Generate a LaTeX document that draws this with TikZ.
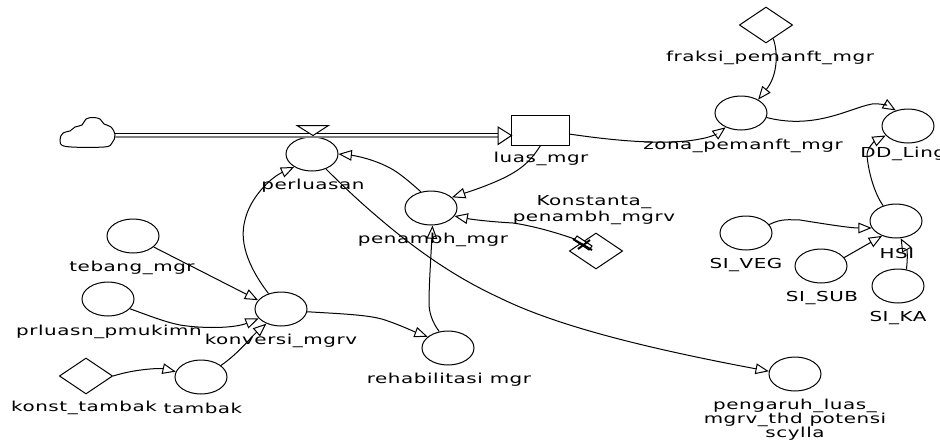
\documentclass[tikz,border=0pt]{standalone}
\usepackage{fontspec}
\setmainfont[FakeStretch=1.45,LetterSpace=4]{DejaVu Sans}
\usetikzlibrary{arrows.meta,shapes.geometric}
\tikzset{
  conv/.style={draw,ellipse,minimum width=39pt,minimum height=25.5pt,inner sep=0pt,line width=.75pt},
  cons/.style={draw,diamond,minimum width=40pt,minimum height=27pt,inner sep=0pt,line width=.75pt},
  stockbox/.style={draw,rectangle,minimum width=43pt,minimum height=22.5pt,inner sep=0pt,line width=.75pt},
  lab/.style={font=\fontsize{10.3pt}{11pt}\selectfont,inner sep=0pt,align=center},
  link/.style={line width=.75pt,-{Triangle[open,length=10pt,width=8pt,line width=.75pt]}},
  pipe/.style={line width=.75pt}
}
\begin{document}
\begin{tikzpicture}[x=.75pt,y=-.75pt]
\useasboundingbox (0,0) rectangle (940,443);
\clip (0,0) rectangle (940,443);
% stock and variables
\node[stockbox] (stock) at (540.5,130) {};
\node[conv] (perl) at (312,154) {};
\node[conv] (pen) at (431,208) {};
\node[conv] (konv) at (281,309) {};
\node[conv] (reh) at (448,348) {};
\node[conv] (peng) at (795,374) {};
\node[conv] (teb) at (133,236) {};
\node[conv] (prl) at (108,299) {};
\node[conv] (tam) at (201,377) {};
\node[conv] (zona) at (741,113) {};
\node[conv] (dd) at (908,126) {};
\node[conv] (hsi) at (896,221) {};
\node[conv] (veg) at (746,233) {};
\node[conv] (sub) at (821,266) {};
\node[conv] (ka) at (898,286) {};
\node[cons] (kons) at (596,251) {};
\node[cons] (fra) at (766,25) {};
\node[cons] (kta) at (86,376) {};
% cloud
\draw[line width=.75pt] plot[smooth cycle,tension=.6] coordinates {(66,146.5) (60,140) (63,133) (70,131) (75,127) (82,125) (86,119) (93,117.5) (100,119) (104,124) (111,127) (115,135) (112,143) (104,147)};
\coordinate (cloudE) at (115,133.5);
\coordinate (cloudF) at (115,137);
\coordinate (stockIn) at (498,133.5);
\coordinate (stockInF) at (498,137);
% flow pipe
\draw[pipe] (cloudE) -- (stockIn);
\draw[pipe,line width=1.1pt,gray] (cloudF) -- (stockInF);
\draw[line width=.75pt,fill=white] (498,127) -- (511.5,135.5) -- (498,144.5) -- cycle;
\draw[line width=.75pt,fill=white] (297,125.5) -- (328.5,125.5) -- (313,135.5) -- cycle;
% connectors
\draw[link] (konv.129) .. controls (252,272) and (238,245) .. (245,220) .. controls (250,198) and (270,178) .. (perl.216);
\draw[link] (pen.122) .. controls (410,182) and (398,172) .. (390,168) .. controls (375,160) and (358,156) .. (perl.0);
\draw[link] (perl.-47) .. controls (345,188) and (358,200) .. (373,213) .. controls (410,245) and (450,275) .. (500,298) .. controls (555,325) and (640,347) .. (peng.174);
\draw[link] (stock.south) .. controls (530,162) and (520,172) .. (490,184) .. controls (478,189) and (465,193) .. (pen.27);
\draw[link] (kons.146) .. controls (545,228) and (520,224) .. (513,223) .. controls (495,222) and (475,220) .. (pen.-19);
\draw[link] (reh.118) .. controls (432,322) and (429,312) .. (429,303) .. controls (429,285) and (431,255) .. (pen.-85);
\draw[link] (konv.-6) .. controls (345,314) and (370,315) .. (385,320) .. controls (400,325) and (415,332) .. (reh.151);
\draw[link] (teb.-28) -- (konv.159);
\draw[link] (prl.-24) .. controls (150,316) and (165,322) .. (180,325) .. controls (205,329) and (235,328) .. (konv.203);
\draw[link] (tam.30) .. controls (240,352) and (250,338) .. (konv.225);
\draw[link] (kta.east) .. controls (135,369) and (160,368) .. (tam.168);
\draw[link] (stock.-8) .. controls (610,140) and (665,146) .. (700,139) .. controls (712,137) and (718,133) .. (zona.223);
\draw[link] (fra.-62) .. controls (778,52) and (778,75) .. (zona.38);
\draw[link] (zona.-10) .. controls (815,130) and (850,108) .. (872,104) .. controls (882,103) and (890,107) .. (dd.128);
\draw[link] (hsi.130) .. controls (874,193) and (868,170) .. (867,155) .. controls (867,148) and (875,141) .. (dd.203);
\draw[link] (veg.20) .. controls (782,218) and (790,220) .. (800,220) .. controls (825,224) and (850,228) .. (hsi.196);
\draw[link] (sub.20) -- (hsi.227);
\draw[link] (ka.63) .. controls (908,255) and (907,250) .. (hsi.-75);
% cross mark on the delay link
\draw[line width=.75pt,fill=white] (574,240) -- (577,236) -- (592,246) -- (589,250) -- cycle;
\draw[line width=1.5pt] (573,239) -- (592,250);
\draw[line width=1.5pt] (578,249) -- (590,240);
% labels
\node[lab] (lperl) at (313,186) {perluasan};
\node[lab] (lluas) at (541,158.5) {luas\_mgr};
\node[lab] (lkons) at (594,210.5) {Konstanta\_\\[1pt]penambh\_mgrv};
\node[lab] (lpen) at (433,240) {penambh\_mgr};
\node[lab] (lteb) at (132,268) {tebang\_mgr};
\node[lab] (lprl) at (109,332) {prluasn\_pmukimn};
\node[lab] (lkonv) at (281,341) {konversi\_mgrv};
\node[lab] (lkta) at (84,408) {konst\_tambak};
\node[lab] (ltam) at (203,408) {tambak};
\node[lab] (lreh) at (449,380) {rehabilitasi mgr};
\node[lab,anchor=north] (lpeng) at (795,399) {pengaruh\_luas\_\\[-.5pt]mgrv\_thd potensi\\[-.5pt]scylla};
\node[lab] (lfra) at (770,58) {fraksi\_pemanft\_mgr};
\node[lab] (lzona) at (743,146) {zona\_pemanft\_mgr};
\node[lab,anchor=west] (ldd) at (860,154) {DD\_Ling};
\node[lab] (lhsi) at (897,253) {HSI};
\node[lab] (lveg) at (746,265) {SI\_VEG};
\node[lab] (lsub) at (822,298) {SI\_SUB};
\node[lab] (lka) at (898,318) {SI\_KA};
\end{tikzpicture}
\end{document}
